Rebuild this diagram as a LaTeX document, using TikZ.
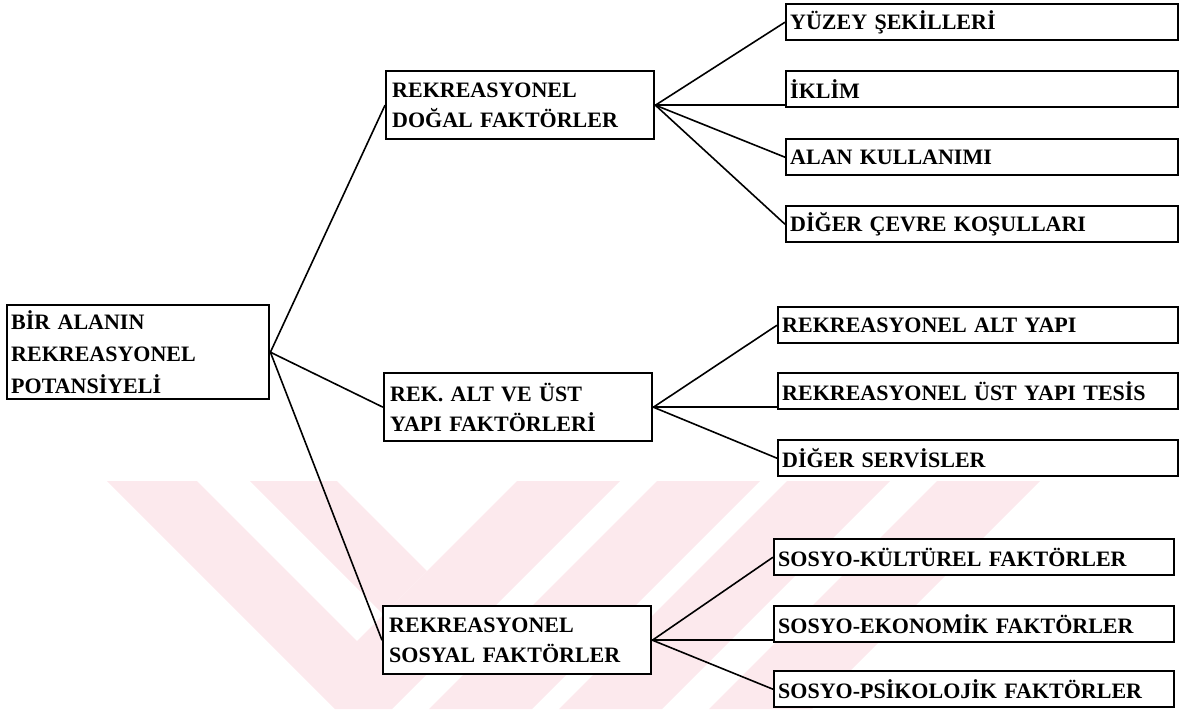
\documentclass[tikz,border=0pt]{standalone}
\usepackage{fontspec}
\setmainfont{Liberation Serif}
\definecolor{filigran}{RGB}{252,233,237}
\tikzset{
 kutu/.style={draw=black, line width=1.2pt, fill=white, anchor=north west, align=left, inner ysep=0pt, font=\bfseries\fontsize{11}{15}\selectfont},
 kok/.style={kutu, text width=127pt, inner xsep=2pt, minimum height=47pt, font=\bfseries\fontsize{11}{16}\selectfont},
 orta/.style={kutu, text width=128pt, inner xsep=3pt, minimum height=34pt},
 yaprak/.style={kutu, text width=196pt, inner xsep=2pt, minimum height=18pt},
 baglanti/.style={black, line width=0.8pt},
}
\begin{document}
\begin{tikzpicture}[x=0.5pt, y=-0.5pt]
\useasboundingbox (0,0) rectangle (1182,709);
\fill[filigran] (107,481) -- (197,481) -- (357,641) -- (517,481) -- (620,481) -- (392,709) -- (335,709) -- cycle;
\fill[filigran] (250,481) -- (337,481) -- (427,571) -- (383.5,614.5) -- cycle;
\foreach \s in {657,787,937}
 \fill[filigran] (\s,481) -- ++(103,0) -- ++(-228,228) -- ++(-103,0) -- cycle;

\node[kok] (kok) at (6,304) {BİR ALANIN\\REKREASYONEL\\POTANSİYELİ};

\node[orta] (dogal) at (385,70) {REKREASYONEL\\DOĞAL FAKTÖRLER};
\node[orta] (yapi) at (383,372) {REK. ALT VE ÜST\\YAPI FAKTÖRLERİ};
\node[orta] (sosyal) at (382,605) {REKREASYONEL\\SOSYAL FAKTÖRLER};

\node[yaprak, text width=192pt] (yuzey) at (785,3) {YÜZEY ŞEKİLLERİ};
\node[yaprak, text width=192pt] (iklim) at (785,70) {İKLİM};
\node[yaprak, text width=192pt] (alan) at (785,138) {ALAN KULLANIMI};
\node[yaprak, text width=192pt] (diger) at (785,205) {DİĞER ÇEVRE KOŞULLARI};

\node[yaprak] (altyapi) at (777,306) {REKREASYONEL ALT YAPI};
\node[yaprak] (ustyapi) at (777,372) {REKREASYONEL ÜST YAPI TESİS};
\node[yaprak] (servis) at (777,439) {DİĞER SERVİSLER};

\node[yaprak] (kultur) at (773,538) {SOSYO-KÜLTÜREL FAKTÖRLER};
\node[yaprak] (ekonomi) at (773,605) {SOSYO-EKONOMİK FAKTÖRLER};
\node[yaprak] (psiko) at (773,670) {SOSYO-PSİKOLOJİK FAKTÖRLER};

\foreach \a in {dogal,yapi,sosyal}
 \draw[baglanti] (kok.east) -- (\a.west);
\foreach \b in {yuzey,alan,diger}
 \draw[baglanti] (dogal.east) -- (\b.west);
\draw[baglanti] (dogal.east) -- (dogal.east -| iklim.west);
\foreach \b in {altyapi,servis}
 \draw[baglanti] (yapi.east) -- (\b.west);
\draw[baglanti] (yapi.east) -- (yapi.east -| ustyapi.west);
\foreach \b in {kultur,psiko}
 \draw[baglanti] (sosyal.east) -- (\b.west);
\draw[baglanti] (sosyal.east) -- (sosyal.east -| ekonomi.west);
\end{tikzpicture}
\end{document}
